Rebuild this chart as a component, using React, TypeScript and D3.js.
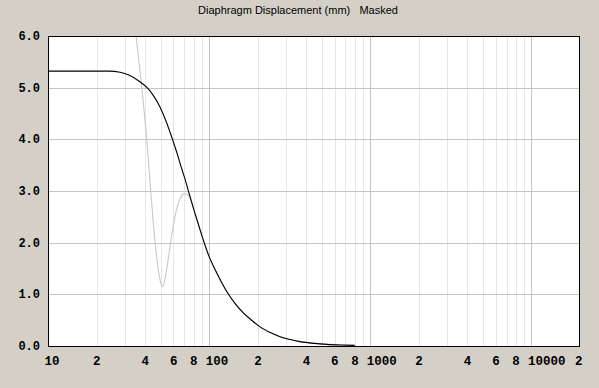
import React, { useRef, useEffect } from 'react';
import * as d3 from 'd3';

// black curve: displacement (mm) vs frequency (Hz)
const mainFreq = [10, 15, 20, 24, 28, 32, 37, 41.5, 45, 49.6, 54, 58.9, 63.2, 67.6, 71, 74.3, 80, 88, 92, 100, 110, 120, 130, 145, 163, 185, 207, 240, 276, 320, 366, 450, 536, 650, 800];
const mainDisp = [5.32, 5.32, 5.32, 5.32, 5.3, 5.24, 5.12, 4.99, 4.85, 4.62, 4.35, 4.02, 3.73, 3.43, 3.22, 3.0, 2.66, 2.24, 2.05, 1.73, 1.45, 1.22, 1.03, 0.82, 0.64, 0.49, 0.37, 0.26, 0.18, 0.125, 0.085, 0.05, 0.032, 0.02, 0.012];

// grey (masked) curve
const maskFreq = [33, 35.2, 38.2, 41, 43.4, 46.2, 48.5, 50.3, 51.7, 53.2, 55.2, 57.3, 60, 62.5, 66, 70, 73, 76, 80, 88, 100, 130, 207, 366, 800];
const maskDisp = [6.9, 6.0, 5.0, 4.0, 3.0, 2.0, 1.45, 1.2, 1.15, 1.3, 1.6, 1.95, 2.35, 2.62, 2.85, 2.95, 2.93, 2.87, 2.66, 2.24, 1.73, 1.03, 0.37, 0.085, 0.012];

const xTicks = [10, 20, 40, 60, 80, 100, 200, 400, 600, 800, 1000, 2000, 4000, 6000, 8000, 10000, 20000];
const xTickLabels = ['10', '2', '4', '6', '8', '100', '2', '4', '6', '8', '1000', '2', '4', '6', '8', '10000', '2'];
const minorGrid = [20, 30, 40, 50, 60, 70, 80, 90, 200, 300, 400, 500, 600, 700, 800, 900, 2000, 3000, 4000, 5000, 6000, 7000, 8000, 9000];
const majorGrid = [100, 1000, 10000];
const yTicks = [0, 1, 2, 3, 4, 5, 6];

export default function App() {
  const svgRef = useRef<SVGSVGElement>(null);

  useEffect(() => {
    document.body.style.margin = '0';
    const W = 599;
    const H = 388;
    const left = 48;
    const right = 580;
    const top = 36;
    const bottom = 346;
    const svg = d3.select(svgRef.current);
    svg.selectAll('*').remove();
    svg.attr('width', W).attr('height', H).style('display', 'block');

    svg.append('rect').attr('width', W).attr('height', H).attr('fill', '#d4d0c8');

    const x = d3.scaleLog().domain([10, 20000]).range([left, right]);
    const y = d3.scaleLinear().domain([0, 6]).range([bottom, top]);

    svg.append('rect')
      .attr('x', left).attr('y', top)
      .attr('width', right - left).attr('height', bottom - top)
      .attr('fill', '#ffffff');

    // grid
    svg.append('g').selectAll('line').data(minorGrid).join('line')
      .attr('x1', (d) => Math.round(x(d)) + 0.5).attr('x2', (d) => Math.round(x(d)) + 0.5)
      .attr('y1', top).attr('y2', bottom)
      .attr('stroke', '#e6e6e6');
    svg.append('g').selectAll('line').data(majorGrid).join('line')
      .attr('x1', (d) => Math.round(x(d)) + 0.5).attr('x2', (d) => Math.round(x(d)) + 0.5)
      .attr('y1', top).attr('y2', bottom)
      .attr('stroke', '#c4c4c4');
    svg.append('g').selectAll('line').data(yTicks.slice(1, -1)).join('line')
      .attr('x1', left).attr('x2', right)
      .attr('y1', (d) => Math.round(y(d)) + 0.5).attr('y2', (d) => Math.round(y(d)) + 0.5)
      .attr('stroke', '#c4c4c4');

    // curves
    svg.append('clipPath').attr('id', 'plotclip')
      .append('rect')
      .attr('x', left).attr('y', top)
      .attr('width', right - left).attr('height', bottom - top);

    const line = d3.line<[number, number]>()
      .x((d) => x(d[0]))
      .y((d) => y(d[1]))
      .curve(d3.curveMonotoneX);

    const maskData = maskFreq.map((f, i) => [f, maskDisp[i]] as [number, number]);
    const mainData = mainFreq.map((f, i) => [f, mainDisp[i]] as [number, number]);

    svg.append('path')
      .attr('d', line(maskData))
      .attr('fill', 'none')
      .attr('stroke', '#c8c8c8')
      .attr('stroke-width', 1.1)
      .attr('clip-path', 'url(#plotclip)');
    svg.append('path')
      .attr('d', line(mainData))
      .attr('fill', 'none')
      .attr('stroke', '#000000')
      .attr('stroke-width', 1.1)
      .attr('clip-path', 'url(#plotclip)');

    // frame
    svg.append('rect')
      .attr('x', left + 0.5).attr('y', top + 0.5)
      .attr('width', right - left - 1).attr('height', bottom - top)
      .attr('fill', 'none')
      .attr('stroke', '#000000');

    // axis labels
    const tickFont = "'Liberation Mono', 'DejaVu Sans Mono', monospace";
    svg.append('g').selectAll('text').data(xTicks).join('text')
      .attr('x', (d) => Math.min(x(d) - 3.5, 575))
      .attr('y', 365)
      .attr('font-family', tickFont)
      .attr('font-weight', 'bold')
      .attr('font-size', 12.5)
      .attr('fill', '#000')
      .text((d, i) => xTickLabels[i]);

    svg.append('g').selectAll('text').data(yTicks).join('text')
      .attr('x', 40)
      .attr('y', (d) => y(d) + 4)
      .attr('text-anchor', 'end')
      .attr('font-family', tickFont)
      .attr('font-weight', 'bold')
      .attr('font-size', 12)
      .attr('fill', '#000')
      .text((d) => d.toFixed(1));

    svg.append('text')
      .attr('x', 298)
      .attr('y', 14)
      .attr('text-anchor', 'middle')
      .attr('font-family', "'Liberation Sans', Arial, sans-serif")
      .attr('font-size', 11)
      .attr('fill', '#000')
      .style('white-space', 'pre')
      .text('Diaphragm Displacement (mm)   Masked');
  }, []);

  return <svg ref={svgRef}></svg>;
}
